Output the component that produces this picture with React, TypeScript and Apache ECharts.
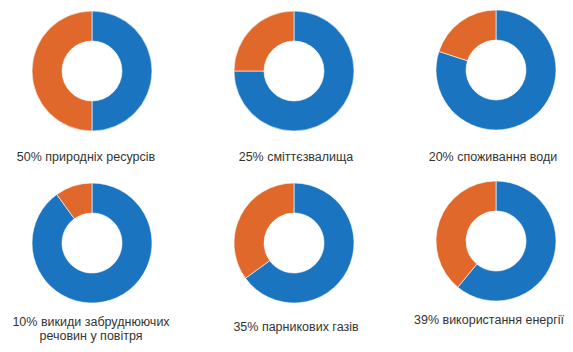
import React, { useEffect, useRef } from "react";
import * as echarts from "echarts";

const labels = [
  "50% природніх ресурсів",
  "25% сміттєзвалища",
  "20% споживання води",
  "10% викиди забруднюючих\nречовин у повітря",
  "35% парникових газів",
  "39% використання енергії",
];
const shares = [50, 25, 20, 10, 35, 39];

const centers: [number, number][] = [
  [92, 71],
  [294, 71],
  [496, 70],
  [92, 243],
  [294, 243],
  [496, 241],
];
const labelPos: [number, number][] = [
  [86, 157],
  [296, 157],
  [493, 157],
  [91, 329],
  [296, 327],
  [489, 320],
];

const BLUE = "#1a74bf";
const ORANGE = "#e0682a";

export default function App() {
  const ref = useRef<HTMLDivElement>(null);
  useEffect(() => {
    if (!ref.current) return;
    const chart = echarts.init(ref.current, undefined, { renderer: "svg" });
    chart.setOption({
      animation: false,
      backgroundColor: "#ffffff",
      series: shares.map((p, i) => ({
        type: "pie",
        center: centers[i],
        radius: [30, 60],
        startAngle: 90,
        clockwise: true,
        label: { show: false },
        labelLine: { show: false },
        silent: true,
        itemStyle: { borderColor: "#ffffff", borderWidth: 0.6 },
        data: [
          { value: 100 - p, name: "rest", itemStyle: { color: BLUE } },
          { value: p, name: "share", itemStyle: { color: ORANGE } },
        ],
      })),
      graphic: labels.map((t, i) => ({
        type: "text",
        x: labelPos[i][0],
        y: labelPos[i][1],
        style: {
          text: t,
          fill: "#333333",
          font: "12.5px 'Liberation Sans', Arial, sans-serif",
          align: "center",
          verticalAlign: "middle",
          lineHeight: 14,
        },
      })),
    });
    return () => chart.dispose();
  }, []);
  return (
    <div
      ref={ref}
      style={{ position: "fixed", left: 0, top: 0, width: 573, height: 352 }}
    />
  );
}
